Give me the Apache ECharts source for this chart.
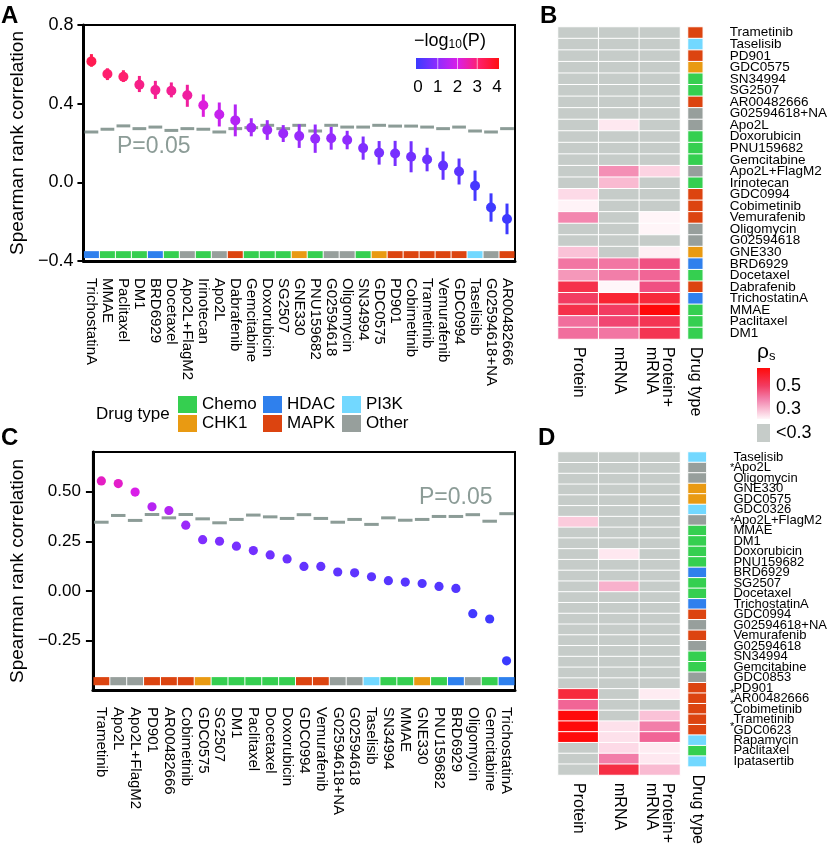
<!DOCTYPE html>
<html><head><meta charset="utf-8">
<script src="https://cdn.jsdelivr.net/npm/echarts@6/dist/echarts.min.js"></script>
<style>html,body{margin:0;padding:0;background:#fff}#c{width:830px;height:847px}</style>
</head><body><div id="c"></div>
<script>
// ---------- data ----------
const typeNames = ['Chemo','CHK1','HDAC','MAPK','PI3K','Other'];
const typeColors = ['#35cf50','#e99a12','#2f80ed','#dc4410','#72d8ff','#979f9c'];

// Panel A
const aDrugs = ['TrichostatinA','MMAE','Paclitaxel','DM1','BRD6929','Docetaxel','Apo2L+FlagM2','Irinotecan','Apo2L','Dabrafenib','Gemcitabine','Doxorubicin','SG2507','GNE330','PNU159682','G02594618','Oligomycin','SN34994','GDC0575','PD901','Cobimetinib','Trametinib','Vemurafenib','GDC0994','Taselisib','G02594618+NA','AR00482666'];
const aTypes = ['HDAC','Chemo','Chemo','Chemo','HDAC','Chemo','Other','Chemo','Other','MAPK','Chemo','Chemo','Chemo','CHK1','Chemo','Other','Other','Chemo','CHK1','MAPK','MAPK','MAPK','MAPK','MAPK','PI3K','Other','MAPK'];
const aRho = [0.615,0.551,0.537,0.496,0.469,0.466,0.443,0.392,0.345,0.315,0.278,0.266,0.248,0.235,0.222,0.224,0.215,0.174,0.150,0.147,0.130,0.116,0.085,0.055,-0.017,-0.128,-0.186];
const aLo = [0.588,0.520,0.510,0.459,0.424,0.432,0.384,0.333,0.284,0.234,0.234,0.216,0.205,0.175,0.150,0.166,0.168,0.115,0.090,0.083,0.051,0.056,0.013,-0.011,-0.094,-0.200,-0.264];
const aHi = [0.652,0.580,0.570,0.541,0.516,0.508,0.496,0.447,0.406,0.396,0.326,0.316,0.291,0.295,0.294,0.282,0.262,0.233,0.210,0.211,0.209,0.176,0.157,0.121,0.060,-0.056,-0.108];
const aNlp = [3.3,3.0,3.0,2.8,2.7,2.7,2.6,2.1,1.75,1.5,1.3,1.25,1.2,1.15,1.1,1.1,1.05,0.85,0.75,0.75,0.7,0.6,0.5,0.4,0.15,0.05,0.05];
const aThr = [0.256,0.270,0.287,0.273,0.281,0.264,0.273,0.270,0.256,0.273,0.278,0.290,0.273,0.290,0.261,0.290,0.281,0.281,0.290,0.286,0.286,0.281,0.273,0.281,0.261,0.256,0.273];
const aYTicks = [-0.4, 0, 0.4, 0.8];

// Panel C
const cDrugs = ['Trametinib','Apo2L','Apo2L+FlagM2','PD901','AR00482666','Cobimetinib','GDC0575','SG2507','DM1','Paclitaxel','Docetaxel','Doxorubicin','GDC0994','Vemurafenib','G02594618+NA','G02594618','Taselisib','SN34994','MMAE','GNE330','PNU159682','BRD6929','Oligomycin','Gemcitabine','TrichostatinA'];
const cTypes = ['MAPK','Other','Other','MAPK','MAPK','MAPK','CHK1','Chemo','Chemo','Chemo','Chemo','Chemo','MAPK','MAPK','Other','Other','PI3K','Chemo','Chemo','CHK1','Chemo','HDAC','Other','Chemo','HDAC'];
const cRho = [0.554,0.541,0.498,0.424,0.405,0.331,0.258,0.250,0.225,0.203,0.181,0.161,0.123,0.123,0.095,0.091,0.071,0.051,0.044,0.037,0.022,0.012,-0.115,-0.142,-0.353];
const cNlp = [2.3,2.25,2.0,1.55,1.5,1.2,0.85,0.8,0.75,0.7,0.65,0.6,0.5,0.5,0.45,0.45,0.4,0.35,0.35,0.3,0.3,0.3,0.1,0.08,0.0];
const cThr = [0.346,0.380,0.355,0.385,0.368,0.385,0.363,0.343,0.360,0.382,0.373,0.365,0.384,0.365,0.346,0.360,0.335,0.368,0.356,0.360,0.375,0.375,0.384,0.351,0.389];
const cYTicks = [-0.25, 0, 0.25, 0.5];

// Panel B (0.2 = below 0.3)
const heatCols = ['Protein','mRNA','Protein+\nmRNA'];
const bRows = ['Trametinib','Taselisib','PD901','GDC0575','SN34994','SG2507','AR00482666','G02594618+NA','Apo2L','Doxorubicin','PNU159682','Gemcitabine','Apo2L+FlagM2','Irinotecan','GDC0994','Cobimetinib','Vemurafenib','Oligomycin','G02594618','GNE330','BRD6929','Docetaxel','Dabrafenib','TrichostatinA','MMAE','Paclitaxel','DM1'];
const bTypes = ['MAPK','PI3K','MAPK','CHK1','Chemo','Chemo','MAPK','Other','Other','Chemo','Chemo','Chemo','Other','Chemo','MAPK','MAPK','MAPK','Other','Other','CHK1','HDAC','Chemo','MAPK','HDAC','Chemo','Chemo','Chemo'];
const bProtein = [0.2,0.2,0.2,0.2,0.2,0.2,0.2,0.2,0.2,0.2,0.2,0.2,0.2,0.2,0.34,0.305,0.44,0.2,0.2,0.37,0.46,0.42,0.58,0.55,0.58,0.47,0.47];
const bMrna = [0.2,0.2,0.2,0.2,0.2,0.2,0.2,0.2,0.32,0.2,0.2,0.2,0.43,0.38,0.2,0.2,0.2,0.2,0.2,0.2,0.46,0.45,0.30,0.61,0.55,0.53,0.46];
const bBoth = [0.2,0.2,0.2,0.2,0.2,0.2,0.2,0.2,0.2,0.2,0.2,0.2,0.35,0.2,0.2,0.2,0.302,0.302,0.2,0.31,0.51,0.48,0.51,0.60,0.65,0.57,0.57];

// Panel D
const dRows = ['Taselisib','Apo2L','Oligomycin','GNE330','GDC0575','GDC0326','Apo2L+FlagM2','MMAE','DM1','Doxorubicin','PNU159682','BRD6929','SG2507','Docetaxel','TrichostatinA','GDC0994','G02594618+NA','Vemurafenib','G02594618','SN34994','Gemcitabine','GDC0853','PD901','AR00482666','Cobimetinib','Trametinib','GDC0623','Rapamycin','Paclitaxel','Ipatasertib'];
const dStars = ['','*','','','','','*','','','','','','','','','','','','','','','','*','*','','*','','','',''];
const dTypes = ['PI3K','Other','Other','CHK1','CHK1','PI3K','Other','Chemo','Chemo','Chemo','Chemo','HDAC','Chemo','Chemo','HDAC','MAPK','Other','MAPK','Other','Chemo','Chemo','Other','MAPK','MAPK','MAPK','MAPK','MAPK','PI3K','Chemo','PI3K'];
const dProtein = [0.2,0.2,0.2,0.2,0.2,0.2,0.36,0.2,0.2,0.2,0.2,0.2,0.2,0.2,0.2,0.2,0.2,0.2,0.2,0.2,0.2,0.2,0.60,0.48,0.65,0.65,0.65,0.2,0.2,0.2];
const dMrna = [0.2,0.2,0.2,0.2,0.2,0.2,0.2,0.2,0.2,0.32,0.2,0.2,0.39,0.2,0.2,0.2,0.2,0.2,0.2,0.2,0.2,0.2,0.2,0.2,0.2,0.33,0.33,0.34,0.45,0.59];
const dBoth = [0.2,0.2,0.2,0.2,0.2,0.2,0.2,0.2,0.2,0.2,0.2,0.2,0.2,0.2,0.2,0.2,0.2,0.2,0.2,0.2,0.2,0.2,0.315,0.2,0.37,0.45,0.48,0.315,0.32,0.38];

const nlpTicks = [0,1,2,3,4];
const rhoLegendTicks = ['0.5','0.3','<0.3'];

// ---------- helpers ----------
const FONT = 'Liberation Sans, Arial, Helvetica, sans-serif';
const GRAY = '#c6ccc9';
const heatStops = [[0.30,[255,246,249]],[0.35,[252,211,226]],[0.40,[247,169,198]],[0.45,[242,126,169]],[0.50,[240,85,138]],[0.55,[242,60,98]],[0.60,[247,42,60]],[0.65,[255,10,10]]];
function heatColor(v){
  if (v < 0.3) return GRAY;
  if (v >= heatStops[heatStops.length-1][0]) { const c = heatStops[heatStops.length-1][1]; return `rgb(${c})`; }
  for (let k=0;k<heatStops.length-1;k++){
    const [v0,c0]=heatStops[k],[v1,c1]=heatStops[k+1];
    if (v>=v0 && v<=v1){ const t=(v-v0)/(v1-v0); return 'rgb('+c0.map((x,j)=>Math.round(x+(c1[j]-x)*t)).join(',')+')'; }
  }
  return GRAY;
}
const tIdx = t => typeNames.indexOf(t);
const nlpColors = ['#3a3aff','#8c2cff','#d91ee8','#ff1f6e','#ff1010'];

function renderDash(params, api){
  const c = api.coord([api.value(0), api.value(1)]);
  const bw = api.size([1,0])[0];
  return {type:'line', shape:{x1:c[0]-bw*0.43, y1:c[1], x2:c[0]+bw*0.43, y2:c[1]}, style:{stroke:'#8c9c97', lineWidth:3}};
}
function renderPoint(params, api){
  const c = api.coord([api.value(0), api.value(1)]);
  const lo = api.coord([api.value(0), api.value(2)]);
  const hi = api.coord([api.value(0), api.value(3)]);
  const color = api.visual('color');
  return {type:'group', children:[
    {type:'line', shape:{x1:c[0],y1:lo[1],x2:c[0],y2:hi[1]}, style:{stroke:color, lineWidth:3}},
    {type:'circle', shape:{cx:c[0],cy:c[1],r:5}, style:{fill:color}}
  ]};
}
function renderDot(params, api){
  const c = api.coord([api.value(0), api.value(1)]);
  return {type:'circle', shape:{cx:c[0],cy:c[1],r:4.6}, style:{fill:api.visual('color')}};
}
function typeBar(yTop, yBot){
  return function(params, api){
    const c1 = api.coord([api.value(0), yTop]);
    const c2 = api.coord([api.value(0), yBot]);
    const bw = api.size([1,0])[0];
    return {type:'rect', shape:{x:c1[0]-bw/2+0.5, y:c1[1], width:bw-1, height:c2[1]-c1[1]}, style:{fill:typeColors[api.value(1)]}};
  };
}
function heatData(cols){
  const out=[];
  cols.forEach((arr,ci)=>arr.forEach((v,ri)=>out.push({value:[ci,ri,v], itemStyle:{color:heatColor(v)}})));
  return out;
}
function typeData(types){
  return types.map((t,ri)=>({value:[0,ri,tIdx(t)], itemStyle:{color:typeColors[tIdx(t)]}}));
}
const fmt1 = v => (v<0?'\u2212':'') + Math.abs(v).toFixed(1);
const fmt2 = v => (v<0?'\u2212':'') + Math.abs(v).toFixed(2);

function catXAxis(grid, data){
  return {type:'category', gridIndex:grid, data:data, boundaryGap:true,
    axisLine:{onZero:false, lineStyle:{color:'#000', width:3}},
    axisTick:{alignWithLabel:true, length:7, lineStyle:{color:'#000', width:2}},
    axisLabel:{interval:0, rotate:-90, fontSize:15, margin:17, color:'#000', fontFamily:FONT}};
}
function heatXAxis(grid, data){
  return {type:'category', gridIndex:grid, data:data, axisLine:{show:false}, axisTick:{show:false},
    axisLabel:{interval:0, rotate:-90, fontSize:16, lineHeight:16, margin:8, color:'#000', fontFamily:FONT}, splitLine:{show:false}};
}

const option = {
  animation:false,
  backgroundColor:'#fff',
  textStyle:{fontFamily:FONT},
  grid:[
    {left:75, top:25, width:440, height:236, show:true, borderColor:'#000', borderWidth:2},
    {left:558, top:27, width:122, height:312},
    {left:688, top:27, width:22, height:312},
    {left:83, top:452, width:432, height:238, show:true, borderColor:'#000', borderWidth:2},
    {left:558, top:452, width:122, height:323},
    {left:688, top:452, width:22, height:323}
  ],
  xAxis:[
    catXAxis(0, aDrugs),
    heatXAxis(1, heatCols),
    heatXAxis(2, ['Drug type']),
    catXAxis(3, cDrugs),
    heatXAxis(4, heatCols),
    heatXAxis(5, ['Drug type'])
  ],
  yAxis:[
    {type:'value', gridIndex:0, min:-0.4, max:0.8, interval:0.4, splitLine:{show:false},
      name:'Spearman rank correlation', nameLocation:'middle', nameRotate:90, nameGap:55,
      nameTextStyle:{fontSize:19, color:'#000', fontFamily:FONT},
      axisLine:{show:true, onZero:false, lineStyle:{color:'#000', width:3}},
      axisTick:{show:true, length:6, lineStyle:{color:'#000', width:2}, customValues:aYTicks},
      axisLabel:{fontSize:18, color:'#000', margin:10, formatter:fmt1, customValues:aYTicks, fontFamily:FONT}},
    {type:'category', gridIndex:1, data:bRows, inverse:true, show:false},
    {type:'category', gridIndex:2, data:bRows, inverse:true, position:'right',
      axisLine:{show:false}, axisTick:{show:false},
      axisLabel:{interval:0, fontSize:13.5, margin:27, color:'#000', align:'left', fontFamily:FONT}},
    {type:'value', gridIndex:3, min:-0.5, max:0.7, interval:0.25, splitLine:{show:false},
      name:'Spearman rank correlation', nameLocation:'middle', nameRotate:90, nameGap:63,
      nameTextStyle:{fontSize:19, color:'#000', fontFamily:FONT},
      axisLine:{show:true, onZero:false, lineStyle:{color:'#000', width:3}},
      axisTick:{show:true, length:7, lineStyle:{color:'#000', width:2}, customValues:cYTicks},
      axisLabel:{fontSize:17, color:'#000', margin:12, formatter:fmt2, customValues:cYTicks, fontFamily:FONT}},
    {type:'category', gridIndex:4, data:dStars, inverse:true, position:'right',
      axisLine:{show:false}, axisTick:{show:false},
      axisLabel:{interval:0, fontSize:11, margin:50, color:'#000', align:'left', fontFamily:FONT}},
    {type:'category', gridIndex:5, data:dRows, inverse:true, position:'right',
      axisLine:{show:false}, axisTick:{show:false},
      axisLabel:{interval:0, fontSize:13, margin:27, color:'#000', align:'left', fontFamily:FONT}}
  ],
  visualMap:[
    {show:false, seriesIndex:1, dimension:4, min:0, max:4, inRange:{color:nlpColors}},
    {show:false, seriesIndex:6, dimension:2, min:0, max:4, inRange:{color:nlpColors}}
  ],
  series:[
    {type:'custom', xAxisIndex:0, yAxisIndex:0, renderItem:renderDash, data:aThr.map((v,i)=>[i,v]), z:2},
    {type:'custom', xAxisIndex:0, yAxisIndex:0, renderItem:renderPoint, encode:{x:0,y:1},
      data:aRho.map((v,i)=>[i,v,aLo[i],aHi[i],aNlp[i]]), z:3},
    {type:'custom', xAxisIndex:0, yAxisIndex:0, renderItem:typeBar(-0.35,-0.385), data:aTypes.map((t,i)=>[i,tIdx(t)]), z:2},
    {type:'heatmap', xAxisIndex:1, yAxisIndex:1, data:heatData([bProtein,bMrna,bBoth]), itemStyle:{borderColor:'#fff', borderWidth:1}},
    {type:'heatmap', xAxisIndex:2, yAxisIndex:2, data:typeData(bTypes), itemStyle:{borderColor:'#fff', borderWidth:1}},
    {type:'custom', xAxisIndex:3, yAxisIndex:3, renderItem:renderDash, data:cThr.map((v,i)=>[i,v]), z:2},
    {type:'custom', xAxisIndex:3, yAxisIndex:3, renderItem:renderDot, encode:{x:0,y:1}, data:cRho.map((v,i)=>[i,v,cNlp[i]]), z:3},
    {type:'custom', xAxisIndex:3, yAxisIndex:3, renderItem:typeBar(-0.435,-0.476), data:cTypes.map((t,i)=>[i,tIdx(t)]), z:2},
    {type:'heatmap', xAxisIndex:4, yAxisIndex:4, data:heatData([dProtein,dMrna,dBoth]), itemStyle:{borderColor:'#fff', borderWidth:1}},
    {type:'heatmap', xAxisIndex:5, yAxisIndex:5, data:typeData(dTypes), itemStyle:{borderColor:'#fff', borderWidth:1}}
  ],
  graphic:[]
};

// panel letters
const g = option.graphic;
[['A',1,4],['B',540,4],['C',1,426],['D',538,426]].forEach(([t,x,y])=>g.push({type:'text', x:x, y:y, style:{text:t, fontSize:24, fontWeight:'bold', fontFamily:FONT, fill:'#000'}}));
// P=0.05 labels
g.push({type:'text', x:117, y:147, style:{text:'P=0.05', fontSize:23, fontFamily:FONT, fill:'#8c9c97', verticalAlign:'middle'}});
g.push({type:'text', x:419, y:498, style:{text:'P=0.05', fontSize:23, fontFamily:FONT, fill:'#8c9c97', verticalAlign:'middle'}});
// -log10(P) legend
g.push({type:'text', x:414, y:41, style:{text:'\u2212log{sub|10}(P)', fontSize:18, fontFamily:FONT, fill:'#000', verticalAlign:'middle',
  rich:{sub:{fontSize:12, fontFamily:FONT, verticalAlign:'bottom', padding:[8,0,0,0]}}}});
g.push({type:'rect', shape:{x:416, y:58, width:83, height:11}, style:{fill:new echarts.graphic.LinearGradient(0,0,1,0,
  nlpColors.map((c,k)=>({offset:k/(nlpColors.length-1), color:c})))}});
nlpTicks.forEach((t,k)=>{
  const x = 418 + k*(79/(nlpTicks.length-1));
  if (k>0 && k<nlpTicks.length-1) g.push({type:'line', shape:{x1:x,y1:58,x2:x,y2:69}, style:{stroke:'rgba(255,255,255,0.6)', lineWidth:1}});
  g.push({type:'text', x:x, y:87, style:{text:String(t), fontSize:17, fontFamily:FONT, fill:'#000', align:'center', verticalAlign:'middle'}});
});
// rho_s legend
g.push({type:'text', x:757, y:352, style:{text:'\u03c1{sub|s}', fontSize:21, fontFamily:FONT, fill:'#000', verticalAlign:'middle',
  rich:{sub:{fontSize:13, fontFamily:FONT, verticalAlign:'bottom', padding:[6,0,0,0]}}}});
g.push({type:'rect', shape:{x:757, y:368, width:13, height:51}, style:{fill:new echarts.graphic.LinearGradient(0,0,0,1,[
  {offset:0, color:'#ff0a0a'},{offset:0.35, color:'#f23c62'},{offset:0.6, color:'#f27ea9'},{offset:1, color:'#fff6f9'}])}});
g.push({type:'rect', shape:{x:757, y:424, width:13, height:18}, style:{fill:GRAY}});
[[rhoLegendTicks[0],386],[rhoLegendTicks[1],409],[rhoLegendTicks[2],433]].forEach(([t,y])=>g.push({type:'text', x:776, y:y, style:{text:t, fontSize:18, fontFamily:FONT, fill:'#000', verticalAlign:'middle'}}));
// Drug type legend
g.push({type:'text', x:96, y:414, style:{text:'Drug type', fontSize:17, fontFamily:FONT, fill:'#000', verticalAlign:'middle'}});
const legCols = [178, 263, 342];
typeNames.forEach((t,k)=>{
  const col = Math.floor(k/2), row = k%2;
  const x = legCols[col], y = 396 + row*19;
  g.push({type:'rect', shape:{x:x, y:y, width:19, height:17}, style:{fill:typeColors[k]}});
  g.push({type:'text', x:x+24, y:y+8.5, style:{text:t, fontSize:17, fontFamily:FONT, fill:'#000', verticalAlign:'middle'}});
});

const chart = echarts.init(document.getElementById('c'), null, {renderer:'canvas'});
chart.setOption(option);
</script></body></html>
